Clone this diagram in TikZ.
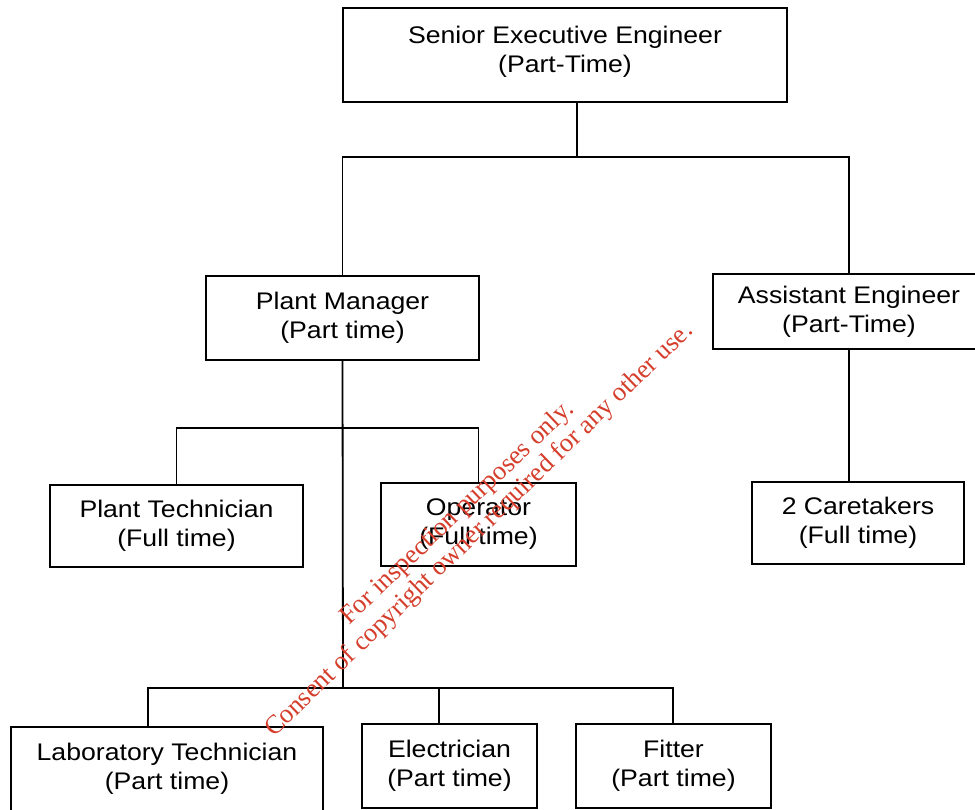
\documentclass[tikz,border=0pt]{standalone}
\usepackage{fontspec}
\setmainfont{Liberation Sans}
\newfontfamily\boxfam{Liberation Sans}[FakeStretch=1.11]
\newfontfamily\wmfam{Liberation Serif}
\definecolor{wmred}{RGB}{214,62,44}
\begin{document}
\begin{tikzpicture}[x=1pt,y=-1pt,
  box/.style={draw, line width=1.8pt, rectangle, align=center, inner sep=0pt,
    font=\boxfam\fontsize{24}{29}\selectfont},
  link/.style={line width=1.8pt},
  wm/.style={text=wmred, font=\wmfam\fontsize{26.5}{30}\selectfont, inner sep=0pt, anchor=base}]
\useasboundingbox (0,0) rectangle (975,809);
\fill[white] (0,0) rectangle (975,809);

% boxes
\node[box, minimum width=444pt, minimum height=94pt, text depth=11.5pt] (se) at (565,55) {Senior Executive Engineer\\(Part-Time)};
\node[box, minimum width=273pt, minimum height=84pt] (pm) at (342.5,318) {Plant Manager\\(Part time)};
\node[box, minimum width=272pt, minimum height=75pt] (ae) at (849,311.5) {Assistant Engineer\\(Part-Time)};
\node[box, minimum width=253pt, minimum height=82pt] (pt) at (176.5,526) {Plant Technician\\(Full time)};
\node[box, minimum width=195pt, minimum height=83pt] (op) at (478.5,524.5) {Operator\\(Full time)};
\node[box, minimum width=212pt, minimum height=82pt] (ct) at (858,523) {2 Caretakers\\(Full time)};
\node[box, minimum width=312pt, minimum height=84pt] (lt) at (167,769) {Laboratory Technician\\(Part time)};
\node[box, minimum width=175pt, minimum height=84pt] (el) at (449.5,766) {Electrician\\(Part time)};
\node[box, minimum width=195pt, minimum height=84pt] (fi) at (673.5,766) {Fitter\\(Part time)};

% bus points
\coordinate (b1) at (577,157);
\coordinate (b2) at (343,428);
\coordinate (b3) at (343,688);
\coordinate (c1) at (148,688);
\coordinate (c2) at (439,688);
\coordinate (c3) at (673,688);

% connectors
\draw[link] (se.south -| b1) -- (b1);
\draw[link] (pm.north) -- (pm.north |- b1) -- (ae.north |- b1) -- (ae.north);
\draw[link] (pm.south) -- (b3);
\draw[link] (pt.north) -- (pt.north |- b2) -- (op.north |- b2) -- (op.north);
\draw[link] (c1 |- lt.north) -- (c1) -- (c3) -- (c3 |- fi.north);
\draw[link] (c2) -- (c2 |- el.north);
\draw[link] (ae.south) -- (ae.south |- ct.north);

% watermark
\node[wm, rotate=43.6] (wm1) at (462,518) {For inspection purposes only.};
\node[wm, rotate=44] (wm2) at (484,535) {Consent of copyright owner required for any other use.};
\end{tikzpicture}
\end{document}
